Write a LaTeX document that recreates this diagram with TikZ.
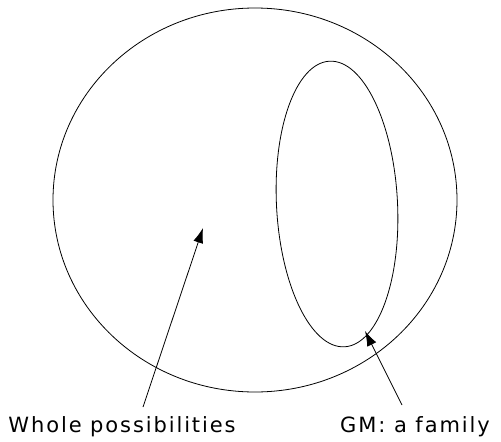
\documentclass[tikz,border=0pt]{standalone}
\usepackage{fontspec}
\setmainfont{DejaVu Sans}[LetterSpace=9]
\usetikzlibrary{arrows.meta}

\begin{document}
\begin{tikzpicture}[x=1pt, y=-1pt, line width=0.8pt,
    caption/.style = {font=\fontsize{21}{25}\selectfont, inner sep=0pt, anchor=base},
    pointer/.style = {-{Latex[length=15pt, width=10pt]}}]
    \useasboundingbox (0,0) rectangle (501,442);

    % Whole set
    \draw (255,200) ellipse [x radius=202, y radius=192];
    % Family GM inside
    \draw[rotate around={3:(337,204)}] (337,204) ellipse [x radius=60.5, y radius=143];

    % Labels
    \node[caption] (whole) at (122,432) {Whole possibilities};
    \node[caption] (gm) at (415,432) {GM: a family};

    % Arrows
    \coordinate (wholeTail) at (143,407);
    \coordinate (wholeTip) at (203,228);
    \coordinate (gmTail) at (402,405);
    \coordinate (gmTip) at (365,331);
    \draw[pointer] (wholeTail) -- (wholeTip);
    \draw[pointer] (gmTail) -- (gmTip);
\end{tikzpicture}
\end{document}
